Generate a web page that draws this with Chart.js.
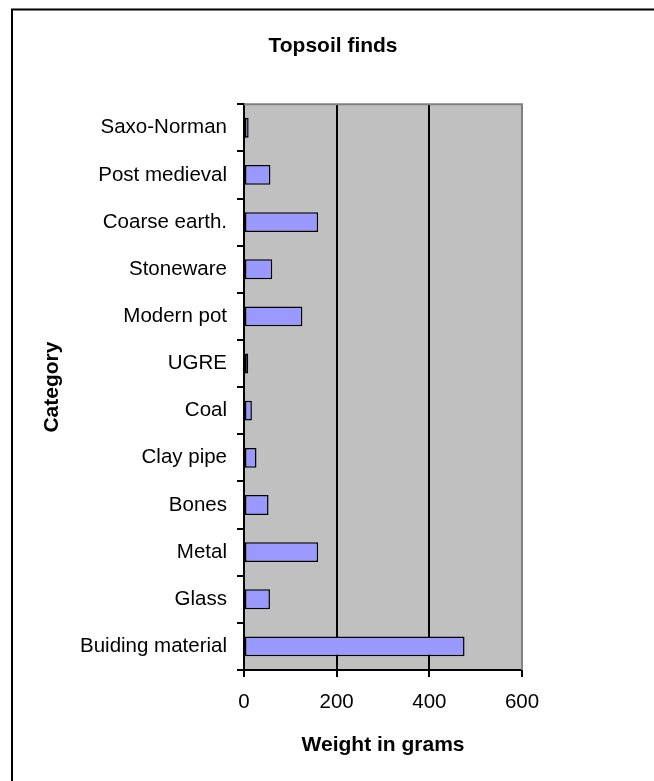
<!DOCTYPE html>
<html>
<head>
<meta charset="utf-8">
<title>Topsoil finds</title>
<script src="https://cdn.jsdelivr.net/npm/chart.js@4.4.1/dist/chart.umd.min.js"></script>
<style>
    html, body { margin: 0; padding: 0; background: #fff; }
    #chartWrap { width: 654px; height: 781px; }
</style>
</head>
<body>
<div id="chartWrap">
    <canvas id="findsChart" width="654" height="781"></canvas>
</div>
<script>
// Data
const categories = ['Saxo-Norman', 'Post medieval', 'Coarse earth.', 'Stoneware', 'Modern pot', 'UGRE',
    'Coal', 'Clay pipe', 'Bones', 'Metal', 'Glass', 'Buiding material'];
const weights = [10, 57, 160, 61, 126, 9, 17, 27, 53, 160, 56, 476];
const weightTicks = [0, 200, 400, 600];

document.addEventListener('DOMContentLoaded', function () {
    Chart.defaults.color = '#000';
    Chart.defaults.font.family = '"Liberation Sans", Arial, sans-serif';

    // grey plot area, grey top/right frame, and the outer chart border
    const frame = {
        id: 'frame',
        beforeDraw(chart) {
            const { ctx, chartArea: a } = chart;
            ctx.save();
            ctx.fillStyle = '#C0C0C0';
            ctx.fillRect(a.left, a.top, a.right - a.left, a.bottom - a.top);
            ctx.restore();
        },
        afterDatasetsDraw(chart) {
            const { ctx, chartArea: a } = chart;
            ctx.save();
            ctx.strokeStyle = '#808080';
            ctx.lineWidth = 2;
            ctx.beginPath();
            ctx.moveTo(a.left, a.top);
            ctx.lineTo(a.right, a.top);
            ctx.lineTo(a.right, a.bottom);
            ctx.stroke();
            ctx.restore();
        },
        afterDraw(chart) {
            const ctx = chart.ctx;
            ctx.save();
            ctx.strokeStyle = '#000';
            ctx.lineWidth = 2;
            ctx.strokeRect(12, 9.5, 800, 900);
            ctx.restore();
        }
    };

    const ctx = document.getElementById('findsChart').getContext('2d');
    new Chart(ctx, {
        type: 'bar',
        data: {
            labels: categories,
            datasets: [{
                data: weights,
                backgroundColor: '#9999FF',
                borderColor: '#000',
                borderWidth: 1.5,
                borderSkipped: false,
                barPercentage: 0.42,
                categoryPercentage: 1
            }]
        },
        options: {
            indexAxis: 'y',
            responsive: false,
            devicePixelRatio: 1,
            animation: false,
            layout: { padding: { left: 12, right: 0, top: 0, bottom: 0 } },
            plugins: {
                legend: { display: false },
                tooltip: { enabled: false },
                title: {
                    display: true,
                    text: 'Topsoil finds',
                    font: { size: 21, weight: 'bold' },
                    padding: { top: 34, bottom: 45 }
                }
            },
            scales: {
                x: {
                    min: weightTicks[0],
                    max: weightTicks[weightTicks.length - 1],
                    afterBuildTicks(scale) {
                        scale.ticks = weightTicks.map(v => ({ value: v }));
                    },
                    afterFit(scale) { scale.height = 111; },
                    grid: {
                        color: c => (c.tick && c.tick.value > 0 && c.tick.value < 600) ? '#000' : 'rgba(0,0,0,0)',
                        tickColor: '#000',
                        lineWidth: 2,
                        tickLength: 7
                    },
                    border: { color: '#000', width: 2 },
                    ticks: { font: { size: 20.5 }, padding: 13, maxRotation: 0 },
                    title: {
                        display: true,
                        text: 'Weight in grams',
                        font: { size: 21, weight: 'bold' },
                        padding: { top: 0, bottom: 23 }
                    }
                },
                y: {
                    afterFit(scale) { scale.width = 232; },
                    grid: {
                        color: 'rgba(0,0,0,0)',
                        tickColor: '#000',
                        lineWidth: 2,
                        tickLength: 7
                    },
                    border: { color: '#000', width: 2 },
                    ticks: { font: { size: 20.5 }, padding: 10, autoSkip: false },
                    title: {
                        display: true,
                        text: 'Category',
                        font: { size: 21, weight: 'bold' },
                        padding: { top: 28, bottom: 0 }
                    }
                },
                // empty right-hand strip so the plot stops at 522 while the title stays centred on the whole chart
                spacer: {
                    type: 'linear',
                    position: 'right',
                    axis: 'y',
                    afterFit(scale) { scale.width = 132; },
                    grid: { display: false },
                    border: { display: false },
                    ticks: { display: false }
                }
            }
        },
        plugins: [frame]
    });
});
</script>
</body>
</html>
